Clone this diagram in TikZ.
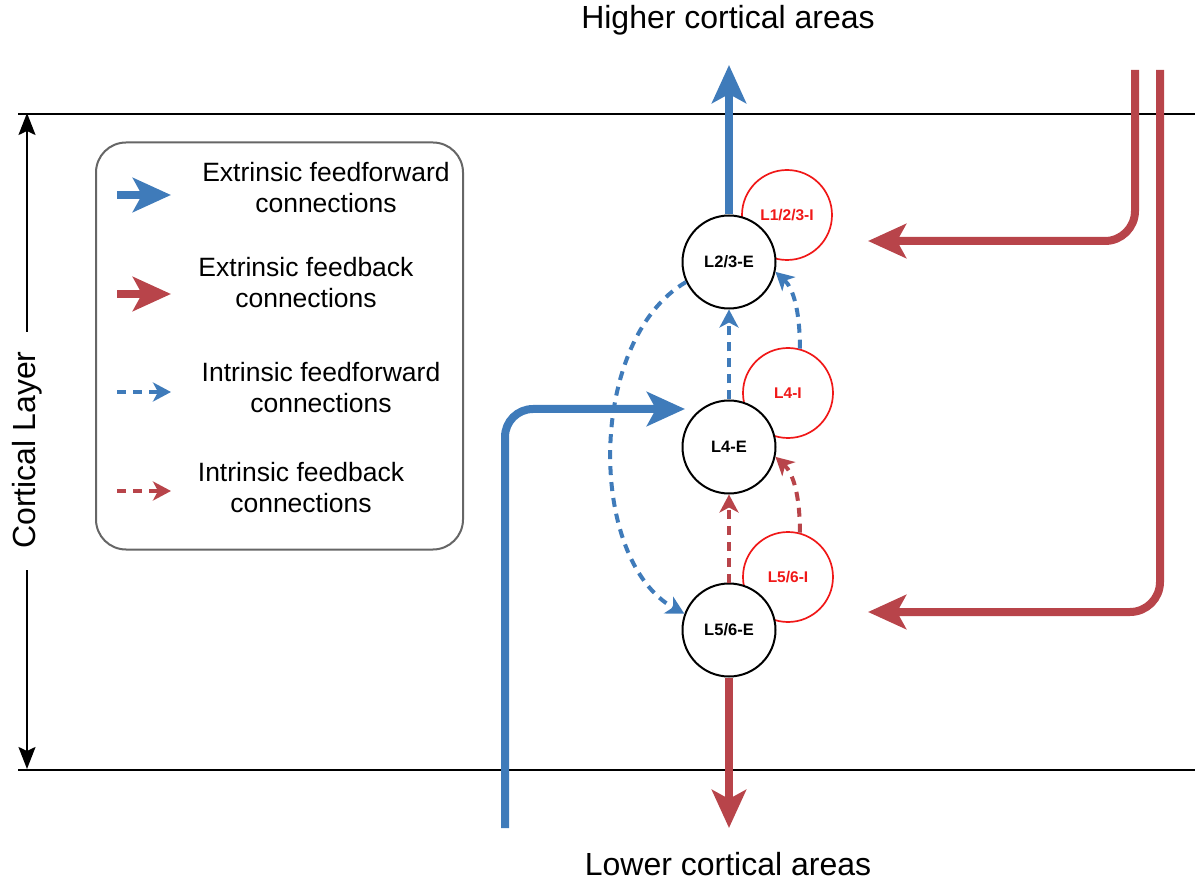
\documentclass[tikz,border=0pt]{standalone}
\usepackage{fontspec}
\setmainfont{Liberation Sans}
\usetikzlibrary{arrows.meta}
\definecolor{ffblue}{HTML}{3F7BBA}
\definecolor{fbred}{HTML}{B8444A}
\definecolor{inhred}{HTML}{F01818}
\begin{document}
\begin{tikzpicture}[x=1pt,y=-1pt,
  exc/.style={circle, draw=black, fill=white, line width=2pt, minimum size=93pt, inner sep=0pt, font=\bfseries\fontsize{16.5}{19}\selectfont},
  inh/.style={circle, draw=inhred, fill=white, line width=1.7pt, minimum size=90pt, inner sep=0pt, text=inhred, font=\bfseries\fontsize{15.5}{18}\selectfont},
  bigtip/.style={-{Stealth[length=38pt,width=34pt,inset=9pt]}},
  smalltip/.style={-{Stealth[length=18pt,width=19pt,inset=5pt]}},
  extff/.style={draw=ffblue, line width=8pt, bigtip},
  extfb/.style={draw=fbred, line width=8pt, bigtip},
  intff/.style={draw=ffblue, line width=4pt, dash pattern=on 9pt off 7pt, smalltip},
  intfb/.style={draw=fbred, line width=4pt, dash pattern=on 9pt off 7pt, smalltip},
  bigtext/.style={font=\fontsize{32}{38}\selectfont},
  legtext/.style={font=\fontsize{26.5}{31}\selectfont, align=center},
  blacktip/.style={-{Stealth[length=22pt,width=17pt,inset=4pt]}}
]
\useasboundingbox (0,0) rectangle (1195,885);

% layer boundaries
\draw[line width=2pt] (18,114) -- (1195,114);
\draw[line width=2pt] (18,770) -- (1195,770);

% cortical layer dimension
\node[bigtext, rotate=90] (cl) at (27,450) {Cortical Layer};
\coordinate (cltop) at (27,113);
\coordinate (clbot) at (27,769);
\coordinate (clg1) at (27,332);
\coordinate (clg2) at (27,570);
\draw[line width=2pt, blacktip] (clg1) -- (cltop);
\draw[line width=2pt, blacktip] (clg2) -- (clbot);

% titles
\node[bigtext] (higher) at (728,20) {Higher cortical areas};
\node[bigtext] (lower) at (728,864) {Lower cortical areas};

% legend
\node[draw=black!60, line width=2pt, rounded corners=30pt, minimum width=367pt, minimum height=407pt] (legend) at (279.5,346) {};
\coordinate (la1) at (117,195); \coordinate (lb1) at (171,195);
\coordinate (la2) at (117,294); \coordinate (lb2) at (171,294);
\coordinate (la3) at (117,392); \coordinate (lb3) at (171,392);
\coordinate (la4) at (117,491); \coordinate (lb4) at (171,491);
\draw[extff] (la1) -- (lb1);
\draw[extfb] (la2) -- (lb2);
\draw[intff] (la3) -- (lb3);
\draw[intfb] (la4) -- (lb4);
\node[legtext] (t1) at (326,188) {Extrinsic feedforward\\connections};
\node[legtext] (t2) at (306,283) {Extrinsic feedback\\connections};
\node[legtext] (t3) at (321,388) {Intrinsic feedforward\\connections};
\node[legtext] (t4) at (301,488) {Intrinsic feedback\\connections};

% inhibitory populations (behind)
\node[inh] (L123I) at (787,215) {L1/2/3-I};
\node[inh] (L4I) at (788,393) {L4-I};
\node[inh] (L56I) at (788,577) {L5/6-I};

% excitatory populations
\node[exc] (L23E) at (729,262) {L2/3-E};
\node[exc] (L4E) at (729,447) {L4-E};
\node[exc] (L56E) at (729,630) {L5/6-E};

% extrinsic connections
\coordinate (uptip) at (729,65);
\coordinate (downtip) at (729,828);
\draw[extff] (L23E.north) -- (uptip);
\draw[extfb] (L56E.south) -- (downtip);

\coordinate (ffstart) at (505,828);
\coordinate (ffcorner) at (505,409);
\coordinate (fftip) at (685,409);
\draw[extff, rounded corners=28pt] (ffstart) -- (ffcorner) -- (fftip);

\coordinate (fb1start) at (1135,70);
\coordinate (fb1corner) at (1135,241);
\coordinate (fb1tip) at (868,241);
\draw[extfb, rounded corners=30pt] (fb1start) -- (fb1corner) -- (fb1tip);

\coordinate (fb2start) at (1160,70);
\coordinate (fb2corner) at (1160,612);
\coordinate (fb2tip) at (868,612);
\draw[extfb, rounded corners=30pt] (fb2start) -- (fb2corner) -- (fb2tip);

% intrinsic connections
\draw[intff] (L4E.north) -- (L23E.south);
\draw[intfb] (L56E.north) -- (L4E.south);
\draw[intff] (L4I.75) .. controls (800,310) and (793,288) .. (L23E.-12);
\draw[intfb] (L56I.75) .. controls (800,495) and (793,473) .. (L4E.-12);
\draw[intff] (L23E.205) .. controls (587,340) and (587,560) .. (L56E.160);
\end{tikzpicture}
\end{document}
